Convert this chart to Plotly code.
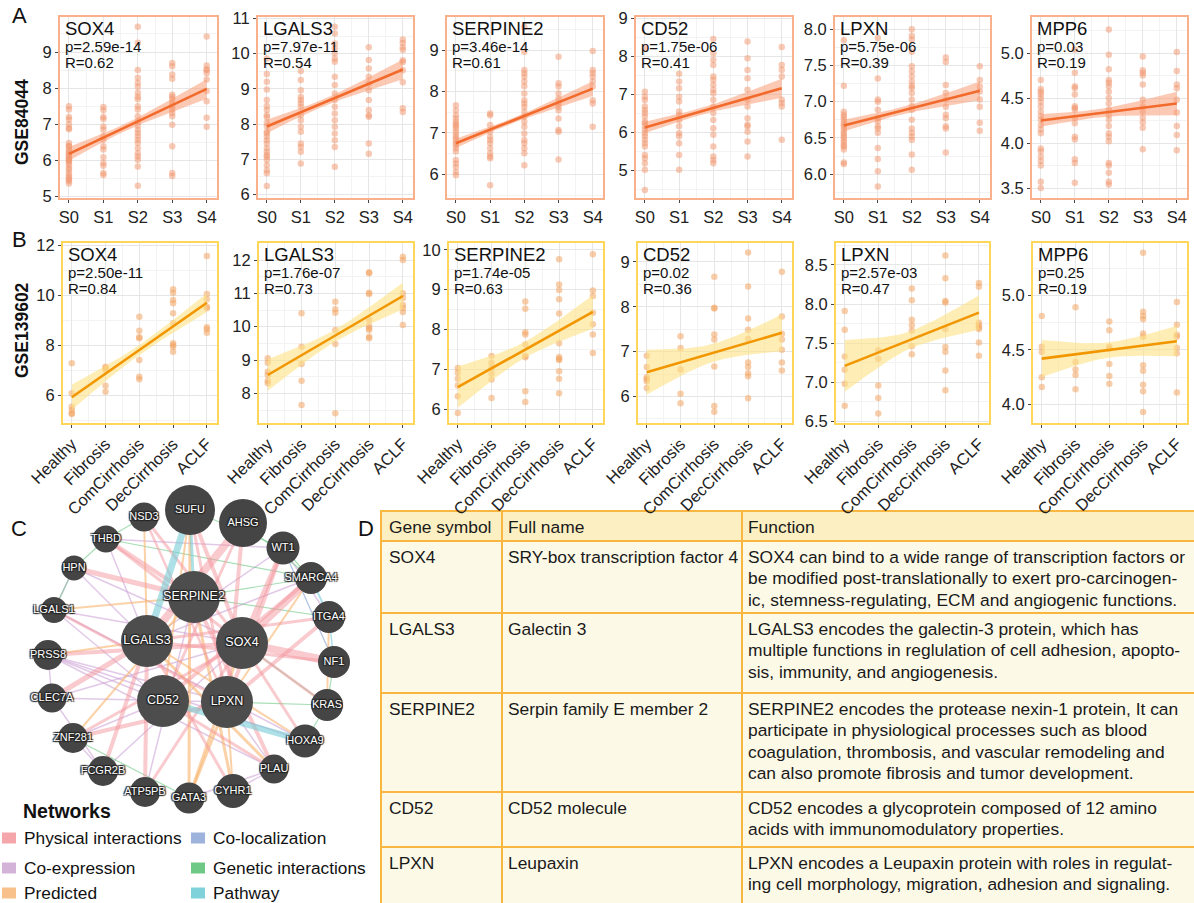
import numpy as np
import plotly.graph_objects as go

W, H = 1194, 903
FONT = "Liberation Sans, Arial, sans-serif"

# ---------------- data ----------------
genes = ["SOX4", "LGALS3", "SERPINE2", "CD52", "LPXN", "MPP6"]
stages_a = ["S0", "S1", "S2", "S3", "S4"]
stages_b = ["Healthy", "Fibrosis", "ComCirrhosis", "DecCirrhosis", "ACLF"]

a_SOX4 = [
    [7.5, 7.41, 7.2, 7.13, 7.0, 6.9, 6.86, 6.48, 6.4, 6.39, 6.3, 6.25, 6.2, 6.15, 6.11, 6.05, 6.02, 6.0, 5.95, 5.88, 5.8, 5.74, 5.65, 5.58, 5.52, 5.47, 5.43, 5.36],
    [7.48, 7.39, 7.2, 7.15, 6.94, 6.85, 6.67, 6.57, 6.39, 6.3, 6.09, 5.93, 5.85, 5.65, 5.6],
    [9.7, 9.26, 8.5, 8.29, 8.15, 8.04, 7.87, 7.76, 7.69, 7.5, 7.41, 7.22, 7.08, 6.96, 6.85, 6.76, 6.67, 6.57, 6.48, 6.34, 6.2, 6.11, 6.02, 5.83, 5.3],
    [8.7, 8.61, 8.38, 8.26, 7.82, 7.76, 7.69, 7.59, 7.5, 7.41, 7.31, 7.22, 6.99, 6.39, 5.65, 5.57],
    [9.43, 8.63, 8.52, 8.5, 8.41, 8.24, 7.92, 7.64, 7.18, 6.93],
]
a_LGALS3 = [
    [9.86, 9.42, 9.2, 8.98, 8.68, 8.51, 8.4, 8.25, 8.19, 8.04, 7.94, 7.78, 7.73, 7.64, 7.54, 7.45, 7.31, 7.21, 7.12, 7.07, 6.98, 6.83, 6.69, 6.6, 6.24],
    [9.51, 9.25, 8.96, 8.77, 8.68, 8.59, 8.49, 8.25, 8.11, 7.92, 7.78, 7.45, 7.35, 7.21, 6.88],
    [10.76, 10.57, 10.29, 10.15, 10.01, 9.86, 9.77, 9.34, 9.11, 8.87, 8.68, 8.49, 8.3, 8.11, 7.92, 7.73, 7.54, 7.35, 6.79],
    [10.18, 9.82, 9.58, 9.34, 9.15, 8.96, 8.68, 8.4, 8.25, 8.21, 7.45, 7.16],
    [10.4, 10.3, 10.18, 10.1, 9.81, 9.76, 9.53, 9.19, 8.45, 8.34],
]
a_SERPINE2 = [
    [7.67, 7.55, 7.43, 7.35, 7.27, 7.21, 7.17, 7.11, 7.03, 6.95, 6.89, 6.83, 6.76, 6.71, 6.63, 6.55, 6.35, 6.26, 6.18, 6.06, 5.98],
    [7.47, 7.43, 7.19, 7.03, 6.91, 6.83, 6.75, 6.63, 6.51, 6.43, 6.39, 5.74],
    [9.56, 8.96, 8.52, 8.44, 8.36, 8.24, 8.13, 7.95, 7.79, 7.71, 7.63, 7.51, 7.39, 7.27, 7.15, 6.99, 6.83, 6.75, 6.63, 6.51, 6.22],
    [8.84, 8.2, 8.12, 7.95, 7.83, 7.71, 7.63, 7.55, 7.35, 7.07, 7.03, 6.36],
    [8.98, 8.52, 8.44, 8.36, 8.24, 8.12, 7.79, 7.71, 7.15],
]
a_CD52 = [
    [8.21, 7.07, 6.94, 6.85, 6.68, 6.59, 6.51, 6.42, 6.29, 6.24, 6.16, 6.07, 5.98, 5.9, 5.81, 5.72, 5.63, 5.41, 5.32, 5.19, 5.02, 4.49],
    [7.54, 7.34, 7.16, 6.94, 6.81, 6.55, 6.46, 6.33, 6.16, 5.98, 5.9, 5.72, 5.41, 5.02],
    [8.45, 8.08, 7.91, 7.77, 7.47, 7.38, 7.25, 7.12, 7.03, 6.86, 6.68, 6.51, 6.33, 6.11, 5.94, 5.63, 5.37, 5.28, 5.19],
    [8.39, 7.95, 7.64, 7.42, 7.12, 6.86, 6.68, 6.37, 6.2, 6.16, 6.02, 5.76, 5.37],
    [8.24, 7.77, 7.64, 7.47, 6.86, 6.77, 6.68, 5.81],
]
a_LPXN = [
    [7.85, 7.22, 6.86, 6.82, 6.79, 6.75, 6.71, 6.68, 6.65, 6.61, 6.57, 6.54, 6.51, 6.47, 6.44, 6.4, 6.38, 6.34, 6.16, 6.14],
    [7.88, 7.32, 7.03, 7.0, 6.89, 6.77, 6.73, 6.66, 6.63, 6.57, 6.36, 6.21, 6.04, 5.83],
    [8.0, 7.91, 7.86, 7.69, 7.49, 7.42, 7.35, 7.28, 7.22, 7.19, 7.12, 7.03, 6.94, 6.89, 6.75, 6.63, 6.57, 6.52, 6.47, 6.27, 6.06],
    [7.61, 7.55, 7.23, 7.12, 7.03, 6.93, 6.82, 6.77, 6.66, 6.63, 6.3],
    [7.49, 7.3, 7.21, 7.14, 7.03, 6.93, 6.71, 6.6],
]
a_MPP6 = [
    [4.7, 4.6, 4.57, 4.54, 4.5, 4.46, 4.41, 4.35, 4.3, 4.26, 4.2, 4.15, 4.11, 3.94, 3.91, 3.85, 3.8, 3.75, 3.57, 3.5],
    [5.04, 4.78, 4.63, 4.61, 4.54, 4.41, 4.39, 4.37, 4.28, 4.22, 4.07, 4.04, 3.82, 3.78, 3.56],
    [5.26, 4.98, 4.82, 4.7, 4.67, 4.63, 4.57, 4.5, 4.44, 4.37, 4.31, 4.26, 4.19, 4.11, 4.07, 4.02, 3.78, 3.75, 3.67, 3.57, 3.54],
    [4.96, 4.81, 4.78, 4.75, 4.65, 4.48, 4.41, 4.35, 4.28, 4.23, 4.17, 3.93],
    [5.01, 4.8, 4.65, 4.61, 4.48, 4.34, 4.19, 4.09, 3.92],
]

b_SOX4 = [
    [7.27, 6.07, 5.53, 5.4, 5.27, 5.24],
    [7.13, 7.07, 7.0, 6.37, 6.13],
    [9.13, 8.57, 8.31, 8.27, 7.4, 6.73, 6.63],
    [10.23, 10.09, 9.8, 9.67, 9.27, 8.87, 8.07, 8.0, 7.93, 7.73],
    [11.56, 10.04, 9.83, 9.53, 9.47, 8.71, 8.63, 8.49],
]
b_LGALS3 = [
    [9.05, 8.92, 8.65, 8.55, 8.38, 8.3],
    [10.4, 9.4, 8.88, 8.38, 7.65],
    [10.75, 10.52, 10.42, 9.9, 9.48, 7.4],
    [11.63, 11.6, 11.02, 10.98, 10.2, 10.02, 9.95, 9.9, 9.7, 9.65],
    [12.1, 12.0, 11.0, 10.86, 10.65, 10.56, 10.44, 10.05],
]
b_SERPINE2 = [
    [7.03, 6.91, 6.76, 6.59, 6.32, 5.9],
    [7.33, 7.16, 7.03, 6.89, 6.74, 6.28],
    [8.7, 8.52, 7.93, 7.87, 7.62, 7.33, 7.3, 6.45, 6.18],
    [9.76, 9.13, 8.99, 8.76, 8.4, 7.65, 7.31, 7.26, 7.23, 6.95, 6.76, 6.4],
    [9.89, 8.98, 8.84, 8.42, 8.13, 7.87, 7.41],
]
b_CD52 = [
    [6.91, 6.66, 6.43, 6.39, 6.34, 6.19],
    [7.34, 7.08, 6.6, 6.06, 5.85],
    [8.67, 7.98, 7.96, 7.38, 7.27, 6.67, 5.79, 5.66],
    [9.21, 8.45, 7.74, 7.49, 7.28, 6.76, 6.66, 6.52, 6.45, 5.96],
    [8.78, 7.78, 7.4, 7.27, 7.04, 6.76, 6.58],
]
b_LPXN = [
    [7.91, 7.67, 7.33, 7.16, 6.98, 6.7],
    [7.41, 7.3, 6.96, 6.8, 6.6],
    [8.2, 8.05, 7.8, 7.73, 7.66, 7.46, 7.36],
    [8.62, 8.33, 8.04, 8.02, 7.68, 7.45, 7.39, 7.15, 6.9],
    [8.27, 8.22, 7.76, 7.73, 7.7, 7.68, 7.51, 7.34],
]
b_MPP6 = [
    [4.81, 4.53, 4.48, 4.25, 4.16],
    [4.89, 4.39, 4.32, 4.27, 4.14],
    [4.76, 4.68, 4.53, 4.51, 4.37, 4.26, 4.19],
    [5.39, 4.85, 4.81, 4.78, 4.65, 4.62, 4.36, 4.31, 4.18, 4.12, 3.93],
    [4.94, 4.73, 4.64, 4.62, 4.52, 4.47, 4.11],
]

a_p = ["2.59e-14", "7.97e-11", "3.46e-14", "1.75e-06", "5.75e-06", "0.03"]
a_R = ["0.62", "0.54", "0.61", "0.41", "0.39", "0.19"]
b_p = ["2.50e-11", "1.76e-07", "1.74e-05", "0.02", "2.57e-03", "0.25"]
b_R = ["0.84", "0.73", "0.63", "0.36", "0.47", "0.19"]

# fitted line at first / last stage and CI half widths
a_fit_start = [6.18, 7.93, 6.75, 6.13, 6.67, 4.25]
a_fit_end = [7.98, 9.55, 8.07, 7.16, 7.15, 4.44]
a_ci_start = [0.19, 0.19, 0.11, 0.15, 0.08, 0.07]
a_ci_mid = [0.1, 0.1, 0.06, 0.09, 0.05, 0.045]
a_ci_end = [0.27, 0.28, 0.18, 0.25, 0.13, 0.13]
b_fit_start = [5.91, 8.55, 6.55, 6.54, 7.21, 4.42]
b_fit_end = [9.69, 10.92, 8.44, 7.42, 7.89, 4.58]
b_ci_start = [0.5, 0.47, 0.52, 0.5, 0.33, 0.17]
b_ci_mid = [0.2, 0.18, 0.2, 0.2, 0.11, 0.07]
b_ci_end = [0.37, 0.4, 0.42, 0.41, 0.22, 0.14]

a_yrange = [[4.96, 9.97], [5.9, 11.04], [5.43, 9.8], [4.28, 9.03], [5.67, 8.17], [3.39, 5.40]]
b_yrange = [[4.88, 12.08], [7.11, 12.51], [5.65, 10.17], [5.41, 9.42], [6.48, 8.78], [3.83, 5.48]]
a_ydtick = [1, 1, 1, 1, 0.5, 0.5]
b_ydtick = [2, 1, 1, 1, 0.5, 0.5]

# network (panel C)
node_names = ["SUFU", "AHSG", "NSD3", "THBD", "WT1", "HPN", "SMARCA4", "LGALS1", "ITGA4", "PRSS8",
              "NF1", "CLEC7A", "KRAS", "ZNF281", "HOXA9", "FCGR2B", "PLAU", "ATP5PB", "GATA3", "CYHR1",
              "SERPINE2", "LGALS3", "SOX4", "CD52", "LPXN"]
node_x = [190, 243, 144, 106, 283, 74, 311, 54, 329, 48, 334, 52, 327, 73, 305, 103, 274, 145, 189, 233,
          194, 147, 242, 163, 227]
node_y = [510, 523, 517, 539, 548, 568, 578, 610, 617, 655, 662, 698, 705, 738, 741, 771, 769, 792, 798, 791,
          597, 641, 643, 701, 702]
node_d = [50, 48, 29, 27, 33, 25, 32, 26, 32, 30, 32, 29, 32, 30, 33, 30, 29, 30, 31, 34,
          52, 52, 52, 52, 52]
query_genes = ["SERPINE2", "LGALS3", "SOX4", "CD52", "LPXN"]

edges = [
    ("AHSG", "LGALS3", "Physical interactions", 8), ("AHSG", "LPXN", "Physical interactions", 4),
    ("SMARCA4", "SOX4", "Physical interactions", 7), ("SMARCA4", "CD52", "Physical interactions", 4),
    ("WT1", "SOX4", "Physical interactions", 5), ("WT1", "LPXN", "Physical interactions", 4),
    ("NF1", "SOX4", "Physical interactions", 8), ("NF1", "LGALS3", "Physical interactions", 3),
    ("ITGA4", "LPXN", "Physical interactions", 4), ("ITGA4", "LGALS3", "Physical interactions", 3),
    ("KRAS", "SOX4", "Physical interactions", 3), ("HPN", "SERPINE2", "Physical interactions", 5),
    ("THBD", "SERPINE2", "Physical interactions", 4), ("THBD", "SOX4", "Physical interactions", 3),
    ("NSD3", "SOX4", "Physical interactions", 3), ("NSD3", "LPXN", "Physical interactions", 2.5),
    ("CLEC7A", "LGALS3", "Physical interactions", 5), ("PRSS8", "SOX4", "Physical interactions", 4),
    ("ZNF281", "LPXN", "Physical interactions", 4), ("ZNF281", "SOX4", "Physical interactions", 3),
    ("FCGR2B", "LGALS3", "Physical interactions", 4), ("ATP5PB", "LGALS3", "Physical interactions", 4),
    ("ATP5PB", "SOX4", "Physical interactions", 3), ("PLAU", "CD52", "Physical interactions", 3),
    ("PLAU", "SERPINE2", "Physical interactions", 4), ("HOXA9", "SOX4", "Physical interactions", 3),
    ("LGALS1", "LPXN", "Physical interactions", 3), ("SUFU", "SOX4", "Physical interactions", 4),
    ("CYHR1", "LGALS3", "Physical interactions", 3), ("SUFU", "LPXN", "Physical interactions", 3),
    ("AHSG", "CD52", "Physical interactions", 3),
    ("LGALS1", "SOX4", "Co-expression", 1.5), ("LGALS1", "CD52", "Co-expression", 1.5),
    ("PRSS8", "CD52", "Co-expression", 1.5), ("PRSS8", "LPXN", "Co-expression", 1.5),
    ("PRSS8", "HOXA9", "Co-expression", 1.5), ("CLEC7A", "SOX4", "Co-expression", 1.5),
    ("CLEC7A", "LPXN", "Co-expression", 1.5), ("CLEC7A", "FCGR2B", "Co-expression", 1.5),
    ("HPN", "LGALS3", "Co-expression", 1.5), ("HPN", "SOX4", "Co-expression", 1.5),
    ("THBD", "LGALS3", "Co-expression", 1.5), ("THBD", "WT1", "Co-expression", 1.5),
    ("ZNF281", "CD52", "Co-expression", 1.5), ("FCGR2B", "SOX4", "Co-expression", 1.5),
    ("FCGR2B", "ZNF281", "Co-expression", 1.5), ("GATA3", "PLAU", "Co-expression", 1.5),
    ("CYHR1", "PLAU", "Co-expression", 1.5), ("ATP5PB", "SERPINE2", "Co-expression", 1.5),
    ("LGALS3", "SMARCA4", "Co-expression", 1.5), ("LGALS3", "WT1", "Co-expression", 1.5),
    ("LPXN", "PLAU", "Co-expression", 1.5), ("WT1", "ITGA4", "Co-expression", 1.5),
    ("HPN", "LGALS1", "Co-expression", 1.5), ("CLEC7A", "PRSS8", "Co-expression", 1.5),
    ("LGALS1", "HOXA9", "Co-expression", 1.5), ("PRSS8", "PLAU", "Co-expression", 1.5),
    ("GATA3", "SUFU", "Predicted", 3), ("GATA3", "SOX4", "Predicted", 3), ("GATA3", "LPXN", "Predicted", 3),
    ("CYHR1", "LPXN", "Predicted", 2), ("CYHR1", "SERPINE2", "Predicted", 3), ("LGALS3", "PLAU", "Predicted", 3),
    ("LGALS3", "HOXA9", "Predicted", 2), ("NSD3", "LGALS3", "Predicted", 2), ("SUFU", "CD52", "Predicted", 2),
    ("PRSS8", "LGALS3", "Predicted", 2), ("ITGA4", "KRAS", "Predicted", 2), ("LPXN", "SMARCA4", "Predicted", 2),
    ("ZNF281", "SERPINE2", "Predicted", 2), ("LGALS1", "SERPINE2", "Predicted", 2),
    ("NSD3", "THBD", "Genetic interactions", 1.2), ("THBD", "HPN", "Genetic interactions", 1.2),
    ("HPN", "LGALS1", "Genetic interactions", 1.2), ("KRAS", "NF1", "Genetic interactions", 1.2),
    ("KRAS", "HOXA9", "Genetic interactions", 1.2), ("WT1", "SMARCA4", "Genetic interactions", 1.2),
    ("AHSG", "SMARCA4", "Genetic interactions", 1.2), ("SERPINE2", "SMARCA4", "Genetic interactions", 1.2),
    ("THBD", "SMARCA4", "Genetic interactions", 1.2), ("ZNF281", "GATA3", "Genetic interactions", 1.2),
    ("LPXN", "KRAS", "Genetic interactions", 1.2), ("SOX4", "KRAS", "Genetic interactions", 1.2),
    ("SERPINE2", "ITGA4", "Genetic interactions", 1.2), ("SUFU", "WT1", "Genetic interactions", 1.2),
    ("SUFU", "LGALS3", "Pathway", 7), ("CD52", "HOXA9", "Pathway", 6), ("SMARCA4", "ITGA4", "Pathway", 2),
    ("NF1", "ITGA4", "Pathway", 1.5), ("SUFU", "SERPINE2", "Pathway", 3),
    ("WT1", "NF1", "Co-localization", 1.2),
]
net_types = ["Physical interactions", "Co-localization", "Co-expression", "Genetic interactions", "Predicted", "Pathway"]
net_colors = ["rgba(243,150,158,0.5)", "rgba(140,165,215,0.7)", "rgba(205,165,215,0.6)",
              "rgba(95,195,120,0.55)", "rgba(248,180,110,0.6)", "rgba(120,205,215,0.6)"]
legend_colors = ["#f4a6ab", "#9db3db", "#d4b3d8", "#6ec987", "#f8c08a", "#7fd2d9"]

# table (panel D)
table_header = ["Gene symbol", "Full name", "Function"]
table_genes = ["SOX4", "LGALS3", "SERPINE2", "CD52", "LPXN"]
table_names = ["SRY-box transcription factor 4", "Galectin 3", "Serpin family E member 2", "CD52 molecule", "Leupaxin"]
table_functions = [
    ["SOX4 can bind to a wide range of transcription factors or",
     "be modified post-translationally to exert pro-carcinogen-",
     "ic, stemness-regulating, ECM and angiogenic functions."],
    ["LGALS3 encodes the galectin-3 protein, which has",
     "multiple functions in reglulation of cell adhesion, apopto-",
     "sis, immunity, and angiogenesis."],
    ["SERPINE2 encodes the protease nexin-1 protein, It can",
     "participate in physiological processes such as blood",
     "coagulation, thrombosis, and vascular remodeling and",
     "can also promote fibrosis and tumor development."],
    ["CD52 encodes a glycoprotein composed of 12 amino",
     "acids with immunomodulatory properties."],
    ["LPXN encodes a Leupaxin protein with roles in regulat-",
     "ing cell morphology, migration, adhesion and signaling."],
]

# ---------------- layout geometry (pixels) ----------------
a_xdom = [(60, 217), (258, 413), (447, 603), (636, 792), (835, 990), (1032, 1187)]
a_ydom = (17, 198)
b_xdom = [(63, 217), (259, 413), (449, 603), (638, 792), (836, 989), (1033, 1187)]
b_ydom = (243, 423)


def px(x):
    return x / W


def py(y):
    return 1 - y / H


fig = go.Figure()
layout = {}
annotations = []
shapes = []

styles = {
    "a": dict(point="rgba(242,150,110,0.5)", line="#f26a2c", band="rgba(250,150,105,0.5)", border="#fbb08c"),
    "b": dict(point="rgba(242,165,100,0.55)", line="#f29600", band="rgba(253,225,130,0.6)", border="#fdd65a"),
}
TICK = 16.5


def add_panel(idx, values, cats, xdom, ydom, yrange, ydtick, fit0, fit4, ci0, cim, ci4, xc, st, gene, pval, rval, rot):
    ax = "" if idx == 1 else str(idx)
    xa, ya = "x" + ax, "y" + ax
    xs, ys = [], []
    for i, vals in enumerate(values):
        xs += [i] * len(vals)
        ys += vals
    xg = np.linspace(0, 4, 61)
    fit = fit0 + (fit4 - fit0) * xg / 4
    kl = (ci0 ** 2 - cim ** 2) / xc ** 2
    kr = (ci4 ** 2 - cim ** 2) / (4 - xc) ** 2
    hw = np.where(xg < xc, np.sqrt(cim ** 2 + kl * (xg - xc) ** 2), np.sqrt(cim ** 2 + kr * (xg - xc) ** 2))
    fig.add_trace(go.Scatter(x=xs, y=ys, mode="markers", xaxis=xa, yaxis=ya,
                             marker=dict(size=6.5, color=st["point"], line=dict(width=0)), hoverinfo="skip"))
    fig.add_trace(go.Scatter(x=np.concatenate([xg, xg[::-1]]), y=np.concatenate([fit + hw, (fit - hw)[::-1]]),
                             mode="lines", fill="toself", fillcolor=st["band"], line=dict(width=0),
                             xaxis=xa, yaxis=ya, hoverinfo="skip"))
    fig.add_trace(go.Scatter(x=xg, y=fit, mode="lines", line=dict(color=st["line"], width=2.6),
                             xaxis=xa, yaxis=ya, hoverinfo="skip"))
    grid = "#e6e6e6"
    layout["xaxis" + ax] = dict(
        domain=[px(xdom[0]), px(xdom[1])], anchor=ya, range=[-0.26, 4.3], automargin=False,
        tickmode="array", tickvals=list(range(5)), ticktext=cats, tickangle=-45 if rot else 0,
        showgrid=True, gridcolor=grid, gridwidth=1, zeroline=False,
        minor=dict(tickmode="linear", tick0=0.5, dtick=1, showgrid=True, gridcolor="#f3f3f3", gridwidth=0.6, ticks=""),
        showline=True, linecolor=st["border"], linewidth=2, mirror=True,
        ticks="outside", ticklen=3, tickcolor="#444", tickwidth=1,
        tickfont=dict(family=FONT, size=TICK, color="#222"), fixedrange=True)
    fmt = ".1f" if ydtick == 0.5 else "d"
    layout["yaxis" + ax] = dict(
        domain=[py(ydom[1]), py(ydom[0])], anchor=xa, range=yrange, automargin=False,
        tickmode="linear", tick0=0, dtick=ydtick, tickformat=fmt,
        showgrid=True, gridcolor=grid, gridwidth=1, zeroline=False,
        minor=dict(tickmode="linear", tick0=0, dtick=ydtick / 2, showgrid=True, gridcolor="#f3f3f3", gridwidth=0.6, ticks=""),
        showline=True, linecolor=st["border"], linewidth=2, mirror=True,
        ticks="outside", ticklen=3, tickcolor="#444", tickwidth=1,
        tickfont=dict(family=FONT, size=TICK, color="#222"), fixedrange=True)
    x0 = px(xdom[0] + 3)
    annotations.append(dict(text=gene, x=x0, y=py(ydom[0] + 11.5), xref="paper", yref="paper",
                            xanchor="left", yanchor="middle", showarrow=False,
                            font=dict(family=FONT, size=18.5, color="#111")))
    annotations.append(dict(text="p=" + pval, x=x0, y=py(ydom[0] + 29.5), xref="paper", yref="paper",
                            xanchor="left", yanchor="middle", showarrow=False,
                            font=dict(family=FONT, size=15, color="#111")))
    annotations.append(dict(text="R=" + rval, x=x0, y=py(ydom[0] + 45), xref="paper", yref="paper",
                            xanchor="left", yanchor="middle", showarrow=False,
                            font=dict(family=FONT, size=15, color="#111")))


a_data = [a_SOX4, a_LGALS3, a_SERPINE2, a_CD52, a_LPXN, a_MPP6]
b_data = [b_SOX4, b_LGALS3, b_SERPINE2, b_CD52, b_LPXN, b_MPP6]
for i in range(6):
    add_panel(i + 1, a_data[i], stages_a, a_xdom[i], a_ydom, a_yrange[i], a_ydtick[i],
              a_fit_start[i], a_fit_end[i], a_ci_start[i], a_ci_mid[i], a_ci_end[i], 1.6,
              styles["a"], genes[i], a_p[i], a_R[i], False)
for i in range(6):
    add_panel(i + 7, b_data[i], stages_b, b_xdom[i], b_ydom, b_yrange[i], b_ydtick[i],
              b_fit_start[i], b_fit_end[i], b_ci_start[i], b_ci_mid[i], b_ci_end[i], 2.0,
              styles["b"], genes[i], b_p[i], b_R[i], True)

# ---------------- network panel ----------------
NX0, NX1, NY0, NY1 = 0, 372, 480, 830
pos = {n: (x, y) for n, x, y in zip(node_names, node_x, node_y)}
groups = {}
for s, t, typ, w in edges:
    groups.setdefault((typ, w), []).append((s, t))
order = ["Co-expression", "Genetic interactions", "Co-localization", "Predicted", "Physical interactions", "Pathway"]
for typ in order:
    for (tt, w), pairs in groups.items():
        if tt != typ:
            continue
        ex, ey = [], []
        for s, t in pairs:
            ex += [pos[s][0], pos[t][0], None]
            ey += [pos[s][1], pos[t][1], None]
        fig.add_trace(go.Scatter(x=ex, y=ey, mode="lines", xaxis="x13", yaxis="y13",
                                 line=dict(color=net_colors[net_types.index(typ)], width=w), hoverinfo="skip"))
is_q = [n in query_genes for n in node_names]
fig.add_trace(go.Scatter(
    x=node_x, y=node_y, mode="markers+text", xaxis="x13", yaxis="y13", cliponaxis=False,
    text=node_names, textposition="middle center",
    textfont=dict(family=FONT, size=[12.5 if q else 11 for q in is_q], color="white",
                  shadow="1px 1px 1px #222, -1px -1px 1px #222, 1px -1px 1px #222, -1px 1px 1px #222"),
    marker=dict(size=node_d, color=["#4d4d4d" if q else "#454545" for q in is_q], opacity=1,
                line=dict(width=0)), hoverinfo="skip"))
layout["xaxis13"] = dict(domain=[px(NX0), px(NX1)], range=[NX0, NX1], visible=False, fixedrange=True,
                         anchor="y13", automargin=False)
layout["yaxis13"] = dict(domain=[py(NY1), py(NY0)], range=[NY1, NY0], visible=False, fixedrange=True,
                         anchor="x13", automargin=False)

# network legend
annotations.append(dict(text="<b>Networks</b>", x=px(21), y=py(811), xref="paper", yref="paper",
                        xanchor="left", yanchor="middle", showarrow=False,
                        font=dict(family=FONT, size=19.5, color="#111")))
leg_pos = [(2, 838), (191, 838), (2, 868), (191, 868), (2, 893), (191, 893)]
leg_order = ["Physical interactions", "Co-localization", "Co-expression", "Genetic interactions", "Predicted", "Pathway"]
for (lx, ly), name in zip(leg_pos, leg_order):
    c = legend_colors[net_types.index(name)]
    shapes.append(dict(type="rect", xref="paper", yref="paper", x0=px(lx), x1=px(lx + 14),
                       y0=py(ly + 5.5), y1=py(ly - 5.5), fillcolor=c, line=dict(width=0)))
    annotations.append(dict(text=name, x=px(lx + 20), y=py(ly), xref="paper", yref="paper",
                            xanchor="left", yanchor="middle", showarrow=False,
                            font=dict(family=FONT, size=17.3, color="#111")))

# ---------------- table panel ----------------
col_x = [381, 502, 742, 1195]
row_y = [511, 541, 613, 693, 792, 847, 930]
border = "#f9b640"
for r in range(6):
    for c in range(3):
        shapes.append(dict(type="rect", xref="paper", yref="paper",
                           x0=px(col_x[c]), x1=px(col_x[c + 1]), y0=py(row_y[r + 1]), y1=py(row_y[r]),
                           fillcolor="#fcefc2" if r == 0 else "#fdf9e7", line=dict(color=border, width=2),
                           layer="below"))
text_x = [387, 506, 746]
TFS = 17.4
for c in range(3):
    annotations.append(dict(text=table_header[c], x=px(text_x[c]), y=py(526.5), xref="paper", yref="paper",
                            xanchor="left", yanchor="middle", showarrow=False,
                            font=dict(family=FONT, size=TFS, color="#1a1a1a")))
for r in range(5):
    top = row_y[r + 1]
    cells = [[table_genes[r]], [table_names[r]], table_functions[r]]
    for c in range(3):
        for k, line in enumerate(cells[c]):
            annotations.append(dict(text=line, x=px(text_x[c]), y=py(top + 16 + 21.3 * k),
                                    xref="paper", yref="paper", xanchor="left", yanchor="middle",
                                    showarrow=False, font=dict(family=FONT, size=TFS, color="#1a1a1a")))

# ---------------- labels ----------------
for letter, lx, ly in [("A", 19, 16), ("B", 19, 240), ("C", 19, 528), ("D", 366, 528)]:
    annotations.append(dict(text=letter, x=px(lx), y=py(ly), xref="paper", yref="paper",
                            xanchor="center", yanchor="middle", showarrow=False,
                            font=dict(family=FONT, size=22, color="#111")))
for lab, cy in [("GSE84044", 122), ("GSE139602", 330)]:
    annotations.append(dict(text="<b>" + lab + "</b>", x=px(22), y=py(cy), xref="paper", yref="paper",
                            xanchor="center", yanchor="middle", textangle=-90, showarrow=False,
                            font=dict(family=FONT, size=17.5, color="#111")))

fig.update_layout(width=W, height=H, margin=dict(l=0, r=0, t=0, b=0, autoexpand=False), showlegend=False,
                  paper_bgcolor="white", plot_bgcolor="rgba(0,0,0,0)",
                  annotations=annotations, shapes=shapes, **layout)
fig.write_html("out.html", config={"displayModeBar": False},
               post_script="document.body.style.margin='0';document.body.style.overflow='hidden';")
